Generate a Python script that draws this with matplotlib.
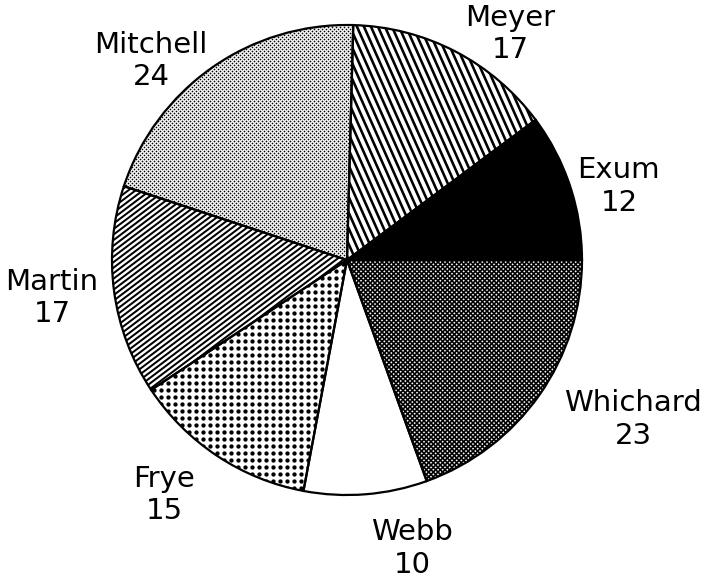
import numpy as np
import matplotlib
matplotlib.use('Agg')
import matplotlib.pyplot as plt
from matplotlib.collections import LineCollection

# slices, counter-clockwise from 3 o'clock
names = ['Exum', 'Meyer', 'Mitchell', 'Martin', 'Frye', 'Webb', 'Whichard']
votes = [12, 17, 24, 17, 15, 10, 23]

# label block centres, in units of the pie radius
label_xy = [(1.157, 0.311), (0.694, 0.962), (-0.834, 0.847), (-1.255, -0.162),
            (-0.779, -1.0), (0.277, -1.226), (1.217, -0.677)]

W, H = 708, 581
R_PX = 235.0
CX, CY = 347, 260
PX = 0.72  # points per pixel at dpi 100

fig = plt.figure(figsize=(W / 100, H / 100), dpi=100)
ax = fig.add_axes([(CX - R_PX) / W, (H - CY - R_PX) / H, 2 * R_PX / W, 2 * R_PX / H])

wedges, _ = ax.pie(votes, startangle=0, counterclock=True, colors=['white'] * len(votes),
                   wedgeprops=dict(edgecolor='black', linewidth=1.6))
ax.set_xlim(-1, 1)
ax.set_ylim(-1, 1)
ax.set_aspect('auto')
ax.axis('off')
ax.add_patch(plt.Circle((0, 0), 1, facecolor='white', edgecolor='none', zorder=0))


def lines(wedge, angle, spacing, lw):
    s = spacing / R_PX
    t = np.radians(angle)
    d = np.array([np.cos(t), np.sin(t)])
    n = np.array([-np.sin(t), np.cos(t)])
    segs = [[o * n - 1.6 * d, o * n + 1.6 * d] for o in np.arange(-1.6, 1.6, s)]
    lc = LineCollection(segs, colors='black', linewidths=lw * PX, zorder=2)
    ax.add_collection(lc)
    lc.set_clip_path(wedge)


def dots(wedge, dx, dy, size, stagger=False):
    # grid in whole pixel steps so the texture does not beat
    xs = (np.arange(0, 2 * R_PX, dx) + 0.3) / R_PX - 1
    ys = (np.arange(0, 2 * R_PX, dy) + 0.3) / R_PX - 1
    px, py = [], []
    for k, y in enumerate(ys):
        off = (dx / R_PX / 2) if (stagger and k % 2) else 0
        px.extend(xs + off)
        py.extend([y] * len(xs))
    sc = ax.scatter(px, py, s=(size * PX) ** 2, c='black', linewidths=0, zorder=2)
    sc.set_clip_path(wedge)


lines(wedges[1], -66, 6.4, 2.6)                  # Meyer
dots(wedges[2], 4, 2, 1.7, stagger=True)         # Mitchell
lines(wedges[3], 37, 4.4, 2.0)                   # Martin
dots(wedges[4], 7, 7, 4.3)                       # Frye
lines(wedges[6], 45, 3.3, 1.7)                   # Whichard
lines(wedges[6], -45, 3.3, 1.7)

for i, w in enumerate(wedges):
    w.set_zorder(3)
    w.set_clip_on(False)
    w.set_facecolor('black' if names[i] == 'Exum' else 'none')

for name, v, (lx, ly) in zip(names, votes, label_xy):
    ax.text(lx, ly, f'{name}\n{v}', ha='center', va='center', ma='center',
            fontsize=21, linespacing=1.22, family='DejaVu Sans', clip_on=False)

fig.savefig('out.png', dpi=100, facecolor='white')
